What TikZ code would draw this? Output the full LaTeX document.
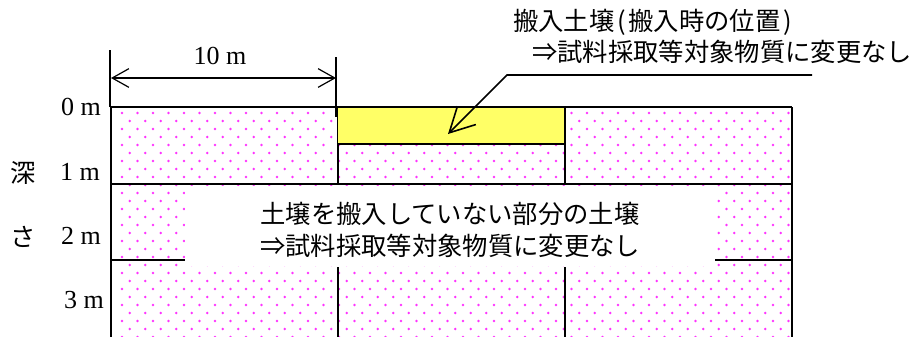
\documentclass[tikz,border=0pt]{standalone}
\usepackage{fontspec}
\setmainfont{Liberation Serif}
\newfontfamily\jpfont{Noto Sans CJK JP}
\usetikzlibrary{arrows.meta}
\definecolor{soilYellow}{HTML}{FFFF66}
\definecolor{dotPink}{HTML}{FF33FF}

\begin{document}
\begin{tikzpicture}[x=0.75pt, y=-0.75pt,
  wall/.style={line width=1.5pt},
  dim/.style={line width=0.9pt},
  lbl/.style={font=\fontsize{19.5}{23}\selectfont, inner sep=0pt},
  jtxt/.style={font=\fontsize{19}{23.5}\selectfont\jpfont, inner sep=0pt},
  barb/.tip={Straight Barb[length=12.5pt, width=14pt, line width=0.9pt]},
  bigbarb/.tip={Straight Barb[length=18.5pt, width=19.5pt, line width=1.2pt]},
]
  \useasboundingbox (0,0) rectangle (922,336);

  % dotted soil
  \begin{scope}
    \clip (111,107) rectangle (792,340);
    \foreach \r in {0,...,28} {
      \pgfmathsetmacro\yy{113+8*\r}
      \pgfmathsetmacro\xo{122+mod(\r,2)*7.75}
      \foreach \i in {0,...,43}
        \fill[dotPink] (\xo+15.5*\i,\yy) circle[radius=1pt];
    }
  \end{scope}

  % brought-in soil and blank part
  \draw[fill=soilYellow, line width=0.6pt] (337,107) rectangle (565,144);
  \draw[wall] (337,144) -- (565,144);
  \fill[white] (185,186) rectangle (715,266);

  % grid
  \draw[wall] (111,107) -- (792,107);
  \draw[wall] (111,107) -- (111,340);
  \draw[wall] (792,107) -- (792,340);
  \draw[wall] (111,184) -- (792,184);
  \draw[wall] (111,260) -- (185,260);
  \draw[wall] (715,260) -- (792,260);
  \draw[wall] (338,144) -- (338,184);
  \draw[wall] (565,107) -- (565,184);
  \draw[wall] (338,267) -- (338,340);
  \draw[wall] (565,267) -- (565,340);

  % width
  \coordinate (dimL) at (111,78);
  \coordinate (dimR) at (336,78);
  \draw[dim] (110,50) -- (110,107);
  \draw[dim] (336,57) -- (336,117);
  \draw[dim, barb-barb] (dimL) -- (dimR);
  \node[lbl] (width) at (220,56) {10 m};

  % depth
  \node[lbl, anchor=east] (d0) at (101,107) {0 m};
  \node[lbl, anchor=east] (d1) at (100,172) {1 m};
  \node[lbl, anchor=east] (d2) at (101,236) {2 m};
  \node[lbl, anchor=east] (d3) at (104,300) {3 m};
  \node[jtxt] (fuka) at (23,173) {深};
  \node[jtxt] (sa) at (23,237) {さ};

  % notes
  \node[jtxt, anchor=west] (note1) at (513,22)
    {搬入土壌\kern2pt(\kern2pt搬入時の位置\kern2pt)};
  \node[jtxt, anchor=west] (note2) at (532,52) {⇒試料採取等対象物質に変更なし};
  \coordinate (ldEnd) at (812,75);
  \coordinate (ldKnee) at (507,75);
  \coordinate (ldTip) at (448,134);
  \draw[line width=1.2pt, -bigbarb] (ldEnd) -- (ldKnee) -- (ldTip);

  \node[jtxt, align=center] (rest) at (450,230)
    {土壌を搬入していない部分の土壌\\⇒試料採取等対象物質に変更なし};
\end{tikzpicture}
\end{document}
